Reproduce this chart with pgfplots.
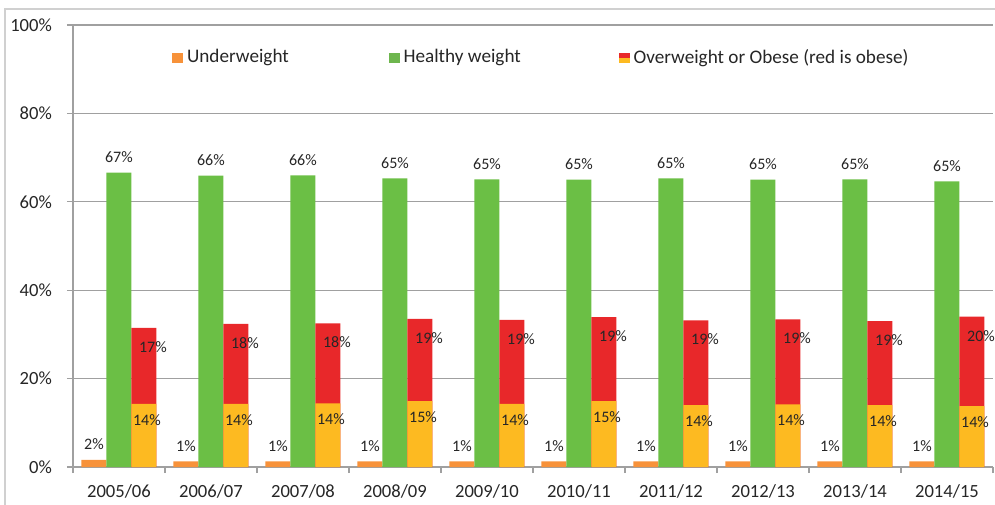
\documentclass[border=0pt]{standalone}
\usepackage{fontspec}
\setmainfont{Carlito}
\usepackage{pgfplots}
\usepackage{pgfplotstable}
\pgfplotsset{compat=1.18}
\definecolor{cOrange}{HTML}{F7923A}
\definecolor{cGreen}{HTML}{6BBF45}
\definecolor{cYellow}{HTML}{FDBA21}
\definecolor{cRed}{HTML}{E8282A}
\definecolor{cGrid}{HTML}{A0A0A0}
\definecolor{cBorder}{HTML}{D0D0D0}

\pgfplotstableread{
x under healthy over obese
0 1.6 66.6 14.3 17.2
1 1.3 65.9 14.3 18.1
2 1.3 66.0 14.4 18.1
3 1.3 65.3 14.9 18.6
4 1.3 65.1 14.3 19.0
5 1.3 65.0 14.9 19.0
6 1.3 65.3 14.0 19.2
7 1.3 65.0 14.2 19.2
8 1.3 65.1 14.0 19.0
9 1.3 64.6 13.8 20.2
}\datatable

\begin{document}
\begin{tikzpicture}
\begin{axis}[
  scale only axis, width=460pt, height=221pt,
  xmin=-0.5, xmax=9.5, ymin=0, ymax=100,
  clip=false,
  axis x line*=bottom, axis y line*=left,
  axis line style={cGrid, line width=0.6pt},
  ytick={0,20,40,60,80,100},
  yticklabels={0\%,20\%,40\%,60\%,80\%,100\%},
  ymajorgrids, grid style={cGrid, line width=0.6pt},
  xtick={-0.5,0.5,1.5,2.5,3.5,4.5,5.5,6.5,7.5,8.5,9.5},
  x tick label as interval,
  xticklabels={2005/06,2006/07,2007/08,2008/09,2009/10,2010/11,2011/12,2012/13,2013/14,2014/15},
  tick align=outside, major tick length=3pt,
  tick style={cGrid, line width=0.6pt},
  /pgf/number format/assume math mode=true,
  ticklabel style={font=\fontsize{9.3}{11}\selectfont, text=black!85},
  yticklabel style={xshift=-4pt},
  xticklabel style={yshift=-2pt},
  legend style={at={(rel axis cs:0.101,0.926)}, anchor=west, draw=none, fill=none,
     font=\fontsize{9.6}{11}\selectfont, text=black!85,
     /tikz/every even column/.append style={column sep=0pt},
     legend cell align=left},
  legend columns=3,
  nodes near coords={\pgfmathprintnumber[fixed,precision=0]{\pgfplotspointmeta}\%},
  nodes near coords style={font=\fontsize{8}{9}\selectfont, text=black!85},
]
% legend
\addlegendimage{legend image code/.code={\fill[cOrange] (0pt,-2.4pt) rectangle (5pt,2.4pt);}}
\addlegendentry{Underweight\rule{48pt}{0pt}}
\addlegendimage{legend image code/.code={\fill[cGreen!85!gray] (0pt,-2.4pt) rectangle (5pt,2.4pt);}}
\addlegendentry{Healthy weight\rule{47pt}{0pt}}
\addlegendimage{legend image code/.code={\fill[cYellow] (0pt,-2.4pt) rectangle (5pt,0.2pt);\fill[cRed] (0pt,0.2pt) rectangle (5pt,2.4pt);}}
\addlegendentry{Overweight or Obese (red is obese)}

% underweight
\addplot[forget plot, ybar, bar width=12.5pt, bar shift=-12.5pt, fill=cOrange, draw=none,
  every node near coord/.append style={yshift=1.5pt, xshift=-12.5pt}]
  table[x=x, y=under] {\datatable};
% healthy
\addplot[forget plot, ybar, bar width=12.5pt, bar shift=0pt, fill=cGreen, draw=none,
  every node near coord/.append style={yshift=1.5pt}]
  table[x=x, y=healthy] {\datatable};
% overweight or obese total (red = obese part on top)
\addplot[forget plot, ybar, bar width=12.5pt, bar shift=12.5pt, fill=cRed, draw=none,
  point meta=explicit,
  every node near coord/.append style={anchor=center, yshift=-9.5pt, xshift=17pt}]
  table[x=x, y expr=\thisrow{over}+\thisrow{obese}, meta=obese] {\datatable};
% overweight part
\addplot[forget plot, ybar, bar width=12.5pt, bar shift=12.5pt, fill=cYellow, draw=none,
  every node near coord/.append style={anchor=center, yshift=-8pt, xshift=14pt}]
  table[x=x, y=over] {\datatable};

% chart area border
\draw[cBorder, line width=0.6pt] (rel axis cs:-0.0739,-0.1) -- (rel axis cs:-0.0739,1.0362) -- (rel axis cs:1.01,1.0362);
\coordinate (BL) at (rel axis cs:-0.0793,-0.0837);
\coordinate (TR) at (rel axis cs:1.0022,1.0566);
\end{axis}
\pgfresetboundingbox
\useasboundingbox (BL) rectangle (TR);
\end{tikzpicture}
\end{document}
